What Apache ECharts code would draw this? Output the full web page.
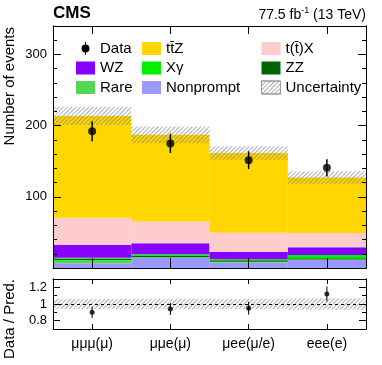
<!DOCTYPE html>
<html>
<head>
<meta charset="utf-8">
<script src="https://cdn.jsdelivr.net/npm/echarts@6/dist/echarts.min.js"></script>
<style>
html,body{margin:0;padding:0;background:#fff;}
#chart{width:382px;height:365px;}
</style>
</head>
<body>
<div id="chart"></div>
<script>
// ---- data ----
const categories = ['\u03bc\u03bc\u03bc(\u03bc)', '\u03bc\u03bce(\u03bc)', '\u03bcee(\u03bc/e)', 'eee(e)'];
const nonprompt = [6.6, 14.4, 7.4, 11.2];
const rare      = [4.6, 0.6, 1.4, 0.6];
const zz        = [1.9, 2.4, 2.0, 1.8];
const xgamma    = [1.4, 1.8, 1.4, 4.8];
const wz        = [18.2, 15.4, 10.2, 10.7];
const ttx       = [37.9, 30.9, 27.0, 20.2];
const ttz       = [143.0, 121.6, 112.2, 78.0];
const uncHalf   = [12.8, 11.7, 9.5, 8.8];
const dataVals  = [192, 175, 151.5, 140.7];
const dataErr   = [14, 13.5, 12.5, 12];
const ratioVals = [0.90, 0.94, 0.95, 1.12];
const ratioErr  = [0.067, 0.072, 0.077, 0.09];
const ratioBand = [0.06, 0.062, 0.06, 0.068];
const yTicks     = [100, 200, 300];
const ratioTicks = [0.8, 1, 1.2];
const ratioMinor = [0.9, 1.1];

const FONT = '"Liberation Sans", Arial, Helvetica, sans-serif';
const chart = echarts.init(document.getElementById('chart'), null, {renderer: 'canvas'});

const comps = [nonprompt, rare, zz, xgamma, wz, ttx, ttz];
const totals = categories.map((c, i) => comps.reduce((s, a) => s + a[i], 0));
const uncBase = totals.map((t, i) => t - uncHalf[i]);
const uncSpan = uncHalf.map(u => 2 * u);
const rBase = ratioBand.map(b => 1 - b);
const rSpan = ratioBand.map(b => 2 * b);

const hatch = {
  symbol: 'rect', symbolSize: 1, dashArrayX: [1, 0], dashArrayY: [1, 2],
  rotation: -Math.PI / 4, color: 'rgba(120,120,120,0.6)', backgroundColor: 'rgba(0,0,0,0)'
};

function bar(name, data, color, extra) {
  return Object.assign({
    name: name, type: 'bar', stack: 'bkg', data: data,
    xAxisIndex: 0, yAxisIndex: 0,
    barWidth: '100%', barGap: '-100%', barCategoryGap: '0%',
    itemStyle: {color: color}, silent: true, animation: false
  }, extra || {});
}

function errRender(lw) {
  return function (params, api) {
    const x = api.value(0), y = api.value(1), e = api.value(2);
    const p1 = api.coord([x, y - e]);
    const p2 = api.coord([x, y + e]);
    return {type: 'line', shape: {x1: p1[0], y1: p1[1], x2: p2[0], y2: p2[1]},
            style: {stroke: '#000', lineWidth: lw}};
  };
}

const axisLine = {show: true, lineStyle: {color: '#000', width: 1}};
function xAx(grid, pos, labels, tickLen) {
  return {
    type: 'category', data: categories, gridIndex: grid, position: pos, boundaryGap: true, z: 10,
    axisLine: Object.assign({onZero: false}, axisLine),
    axisTick: {show: true, inside: true, alignWithLabel: true, length: tickLen, lineStyle: {color: '#000'}},
    axisLabel: labels ? {show: true, color: '#000', fontSize: 14, fontFamily: FONT, margin: 8} : {show: false},
    splitLine: {show: false}
  };
}
function yAx(grid, pos, min, max, opts) {
  const a = {
    type: 'value', gridIndex: grid, position: pos, min: min, max: max, z: 10,
    axisLine: axisLine, splitLine: {show: false},
    axisTick: {show: true, inside: true, length: opts.tickLen, lineStyle: {color: '#000'}},
    axisLabel: {show: false}
  };
  if (opts.interval) a.interval = opts.interval;
  if (opts.tickValues) a.axisTick.customValues = opts.tickValues;
  if (opts.labels) a.axisLabel = {show: true, customValues: opts.labels, color: '#000', fontSize: 13, fontFamily: FONT, margin: 6};
  return a;
}

const legendCommon = {
  orient: 'vertical', itemWidth: 19, itemHeight: 13, itemGap: 4.5, selectedMode: false,
  icon: 'rect',
  textStyle: {fontSize: 15, fontFamily: FONT, color: '#000', lineHeight: 13}
};
const dataIcon = 'path://M9,0 L10,0 L10,3 L9,3 Z M9,10 L10,10 L10,13 L9,13 Z M9.5,2.5 A4,4 0 0 1 9.5,10.5 A4,4 0 0 1 9.5,2.5 Z';

const option = {
  animation: false,
  backgroundColor: '#fff',
  grid: [
    {left: 53, right: 16, top: 26, height: 242},
    {left: 53, right: 16, top: 279, height: 50}
  ],
  legend: [
    Object.assign({}, legendCommon, {left: 71, top: 36,
      data: [{name: 'Data', icon: dataIcon}, 'WZ', 'Rare']}),
    Object.assign({}, legendCommon, {left: 137, top: 36,
      data: ['tt\u0304Z', 'X\u03b3', 'Nonprompt']}),
    Object.assign({}, legendCommon, {left: 256, top: 36,
      data: ['t(t\u0304)X', 'ZZ', {name: 'Uncertainty', itemStyle: {borderColor: '#999', borderWidth: 1, decal: hatch}}]})
  ],
  xAxis: [
    xAx(0, 'bottom', false, 10),
    xAx(0, 'top', false, 8),
    xAx(1, 'bottom', true, 5),
    xAx(1, 'top', false, 5)
  ],
  yAxis: [
    yAx(0, 'left', 0, 340, {interval: 100, tickLen: 8, tickValues: [0].concat(yTicks), labels: yTicks}),
    yAx(0, 'left', 0, 340, {interval: 20, tickLen: 4}),
    yAx(0, 'right', 0, 340, {interval: 100, tickLen: 8, tickValues: [0].concat(yTicks)}),
    yAx(0, 'right', 0, 340, {interval: 20, tickLen: 4}),
    yAx(1, 'left', 0.7, 1.3, {tickLen: 7, tickValues: ratioTicks, labels: ratioTicks}),
    yAx(1, 'left', 0.7, 1.3, {tickLen: 4, tickValues: ratioMinor}),
    yAx(1, 'right', 0.7, 1.3, {tickLen: 7, tickValues: ratioTicks}),
    yAx(1, 'right', 0.7, 1.3, {tickLen: 4, tickValues: ratioMinor})
  ],
  series: [
    bar('Nonprompt', nonprompt, '#9999ff'),
    bar('Rare', rare, '#55d655'),
    bar('ZZ', zz, '#006400'),
    bar('X\u03b3', xgamma, '#00f000'),
    bar('WZ', wz, '#8800ff'),
    bar('t(t\u0304)X', ttx, '#ffcccc'),
    bar('tt\u0304Z', ttz, '#ffd600'),
    bar('uncBase', uncBase, 'rgba(0,0,0,0)', {stack: 'unc'}),
    bar('Uncertainty', uncSpan, 'rgba(0,0,0,0)', {stack: 'unc', itemStyle: {color: 'rgba(0,0,0,0)', decal: hatch}}),
    {
      name: 'Data', type: 'custom', xAxisIndex: 0, yAxisIndex: 0, z: 20,
      renderItem: errRender(1.5), silent: true,
      itemStyle: {color: '#000'},
      data: categories.map((c, i) => [i, dataVals[i], dataErr[i]])
    },
    {
      name: 'Data', type: 'scatter', xAxisIndex: 0, yAxisIndex: 0, z: 21,
      symbol: 'circle', symbolSize: 8, itemStyle: {color: '#000'}, silent: true,
      data: categories.map((c, i) => [i, dataVals[i]])
    },
    // ratio panel
    bar('rBase', rBase, 'rgba(0,0,0,0)', {stack: 'rb', xAxisIndex: 2, yAxisIndex: 4}),
    bar('rBand', rSpan, 'rgba(0,0,0,0)', {stack: 'rb', xAxisIndex: 2, yAxisIndex: 4,
      itemStyle: {color: 'rgba(0,0,0,0)', decal: hatch},
      markLine: {silent: true, symbol: 'none', label: {show: false}, animation: false,
        lineStyle: {color: '#000', type: [3, 3], width: 1}, data: [{yAxis: 1}]}}),
    {
      name: 'ratioErr', type: 'custom', xAxisIndex: 2, yAxisIndex: 4, z: 20,
      renderItem: errRender(1), silent: true,
      data: categories.map((c, i) => [i, ratioVals[i], ratioErr[i]])
    },
    {
      name: 'ratio', type: 'scatter', xAxisIndex: 2, yAxisIndex: 4, z: 21,
      symbol: 'circle', symbolSize: 5, itemStyle: {color: '#000'}, silent: true,
      data: categories.map((c, i) => [i, ratioVals[i]])
    }
  ],
  graphic: [
    {type: 'text', left: 53, top: 5, style: {text: 'CMS', font: 'bold 17px ' + FONT, fill: '#000'}},
    {type: 'text', right: 16, top: 6, style: {
      text: '{a|77.5 fb}{s|-1}{a| (13 TeV)}', fill: '#000',
      rich: {a: {fontSize: 14, fontFamily: FONT, lineHeight: 16, verticalAlign: 'bottom'},
             s: {fontSize: 9, fontFamily: FONT, lineHeight: 16, verticalAlign: 'top', padding: [0, 0, 6, 0]}}
    }},
    {type: 'text', x: 10, y: 27, rotation: Math.PI / 2, style: {
      text: 'Number of events', font: '15px ' + FONT, fill: '#000', textAlign: 'right', textVerticalAlign: 'middle'}},
    {type: 'text', x: 10, y: 279, rotation: Math.PI / 2, style: {
      text: 'Data / Pred.', font: '15px ' + FONT, fill: '#000', textAlign: 'right', textVerticalAlign: 'middle'}}
  ]
};
chart.setOption(option);
</script>
</body>
</html>
